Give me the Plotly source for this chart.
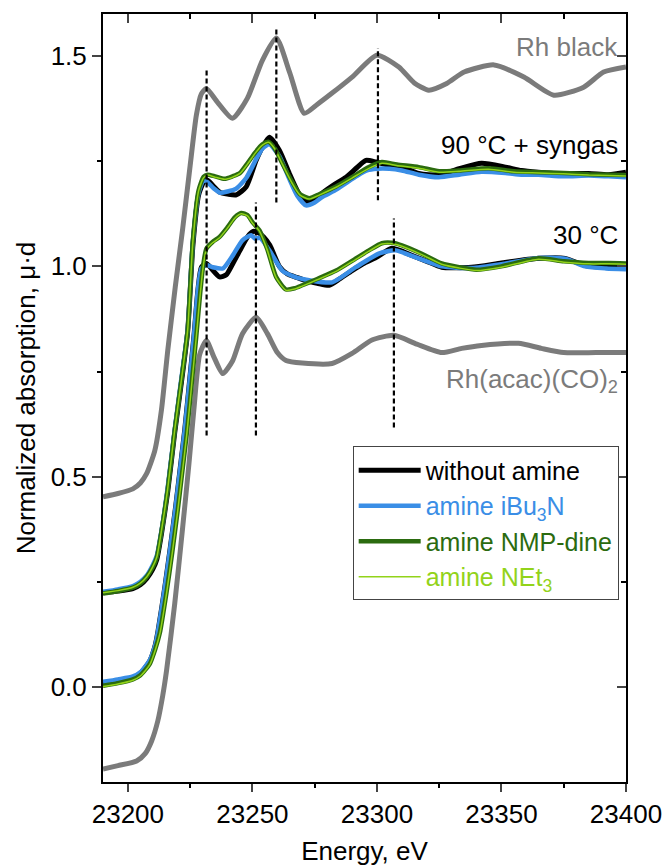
import plotly.graph_objects as go

# ---------------- data ----------------
rh_black = [(23190, 0.452), (23196, 0.46), (23202, 0.471), (23205, 0.485), (23207.5, 0.507),
            (23210.8, 0.562), (23213.5, 0.66), (23216, 0.80), (23219, 0.95), (23222, 1.09),
            (23225, 1.24), (23227.5, 1.36), (23229.5, 1.41), (23231.5, 1.423), (23236, 1.39),
            (23242, 1.352), (23248, 1.40), (23254, 1.49), (23259.6, 1.543), (23265, 1.46),
            (23270.8, 1.364), (23276, 1.385), (23282, 1.412), (23290, 1.45), (23300, 1.502),
            (23308.8, 1.474), (23315, 1.436), (23320.8, 1.419), (23328, 1.435), (23335, 1.462),
            (23347, 1.479), (23359, 1.45), (23371, 1.407), (23383, 1.426), (23391, 1.462),
            (23400, 1.474)]

rh_acac = [(23190, -0.195), (23196, -0.187), (23203.5, -0.176), (23207, -0.158), (23209.5, -0.129),
           (23212, -0.081), (23214, -0.02), (23215.5, 0.038), (23218.8, 0.198), (23222, 0.38),
           (23224.5, 0.53), (23226.5, 0.66), (23228.8, 0.79), (23231.5, 0.824), (23234.5, 0.785),
           (23238.1, 0.745), (23242, 0.775), (23246, 0.84), (23251.5, 0.879), (23256, 0.84),
           (23260, 0.795), (23263.5, 0.776), (23270, 0.77), (23282, 0.769), (23290, 0.793),
           (23298, 0.825), (23306.8, 0.836), (23316, 0.815), (23326, 0.795), (23334, 0.805),
           (23342, 0.812), (23356.8, 0.817), (23366, 0.805), (23375, 0.795), (23388, 0.795),
           (23400, 0.795)]

# 90 °C + syngas
noamine_90 = [(23190, 0.224), (23196, 0.228), (23202, 0.234), (23205, 0.243), (23207.6, 0.258),
              (23210, 0.28), (23211.6, 0.303), (23213.5, 0.365), (23216, 0.465), (23218.8, 0.605),
              (23221.5, 0.725), (23224, 0.845), (23226.1, 1.05), (23228.4, 1.17), (23230.4, 1.2),
              (23232, 1.205), (23234.5, 1.19), (23237, 1.176), (23240, 1.172), (23243.5, 1.17),
              (23247.5, 1.189), (23251.5, 1.252), (23254, 1.283), (23256.8, 1.307), (23260.8, 1.276),
              (23264.8, 1.221), (23268, 1.18), (23270, 1.162), (23272.8, 1.152), (23275, 1.158),
              (23278, 1.174), (23283, 1.195), (23287.6, 1.212), (23292, 1.235), (23295.6, 1.252),
              (23299.6, 1.248), (23305, 1.24), (23310, 1.236), (23316.8, 1.221), (23324.8, 1.217),
              (23333, 1.232), (23342, 1.245), (23351.6, 1.236), (23358, 1.228), (23364.8, 1.224),
              (23375, 1.22), (23385, 1.221), (23393, 1.218), (23400, 1.224)]

ibu3n_90 = [(23190, 0.226), (23196, 0.232), (23202, 0.24), (23205, 0.25), (23207.6, 0.265),
            (23210, 0.29), (23211.6, 0.312), (23213.5, 0.372), (23216, 0.475), (23218.8, 0.612),
            (23221.5, 0.735), (23224, 0.85), (23226.1, 1.06), (23228.4, 1.175), (23230.4, 1.205),
            (23232, 1.2), (23234.5, 1.185), (23237, 1.175), (23240, 1.178), (23243.5, 1.185),
            (23247.5, 1.21), (23251.5, 1.255), (23254, 1.28), (23256.8, 1.29), (23260.8, 1.262),
            (23264.8, 1.208), (23268, 1.168), (23271.5, 1.145), (23275, 1.152), (23278, 1.165),
            (23283, 1.18), (23287.6, 1.198), (23292, 1.215), (23296, 1.228), (23300, 1.232),
            (23305, 1.232), (23310, 1.228), (23316.8, 1.218), (23324.8, 1.212), (23333, 1.218),
            (23342, 1.225), (23351.6, 1.222), (23358, 1.218), (23364.8, 1.218), (23375, 1.214),
            (23385, 1.216), (23393, 1.214), (23400, 1.212)]

nmp_90 = [(23190, 0.222), (23196, 0.228), (23202, 0.236), (23205, 0.246), (23207.6, 0.262),
          (23210, 0.285), (23211.6, 0.308), (23213.5, 0.371), (23216, 0.47), (23218.8, 0.61),
          (23221.5, 0.73), (23224, 0.848), (23226.1, 1.062), (23228.4, 1.181), (23230.4, 1.213),
          (23232, 1.218), (23235, 1.214), (23238.8, 1.208), (23242, 1.214), (23245, 1.222),
          (23248, 1.245), (23251, 1.27), (23254, 1.29), (23256.5, 1.296), (23259, 1.28),
          (23262, 1.245), (23266, 1.2), (23269, 1.172), (23272.8, 1.162), (23277, 1.172),
          (23283.6, 1.19), (23290, 1.212), (23296.8, 1.236), (23302, 1.248), (23308, 1.242),
          (23316.8, 1.236), (23325, 1.226), (23333, 1.228), (23344.8, 1.233), (23355, 1.226),
          (23364.8, 1.224), (23375, 1.222), (23385, 1.219), (23393, 1.218), (23400, 1.217)]

net3_90 = [(23190, 0.224), (23196, 0.229), (23202, 0.237), (23205, 0.247), (23207.6, 0.262),
           (23210, 0.286), (23211.6, 0.309), (23213.5, 0.373), (23216, 0.472), (23218.8, 0.612),
           (23221.5, 0.731), (23224, 0.849), (23226.1, 1.06), (23228.4, 1.18), (23230.4, 1.211),
           (23232, 1.217), (23235, 1.212), (23238.8, 1.207), (23242, 1.212), (23245, 1.221),
           (23248, 1.243), (23251, 1.268), (23254, 1.288), (23256.5, 1.295), (23259, 1.279),
           (23262, 1.243), (23266, 1.197), (23269, 1.17), (23272.8, 1.16), (23277, 1.17),
           (23283.6, 1.188), (23290, 1.21), (23296.8, 1.233), (23302, 1.245), (23308, 1.24),
           (23316.8, 1.233), (23325, 1.224), (23333, 1.226), (23344.8, 1.231), (23355, 1.224),
           (23364.8, 1.222), (23375, 1.22), (23385, 1.217), (23393, 1.216), (23400, 1.215)]

# 30 °C
noamine_30 = [(23190, 0.007), (23196, 0.013), (23202, 0.021), (23205, 0.032), (23208.8, 0.062),
              (23211, 0.1), (23212.1, 0.133), (23214.8, 0.236), (23217, 0.33), (23219.2, 0.43),
              (23221, 0.52), (23222.8, 0.61), (23224.8, 0.73), (23226.6, 0.84), (23228.1, 0.943),
              (23229.5, 0.998), (23231.5, 1.007), (23233.5, 0.995), (23236.8, 0.975), (23239.5, 0.98),
              (23242, 1.005), (23245, 1.038), (23248, 1.07), (23250.3, 1.083), (23252, 1.081),
              (23254.5, 1.07), (23257, 1.05), (23260.8, 1.0), (23264, 0.982), (23267.6, 0.974),
              (23272, 0.965), (23276, 0.96), (23280.8, 0.955), (23285, 0.97), (23290, 0.99),
              (23295, 1.008), (23299.6, 1.021), (23306, 1.043), (23310, 1.036), (23314, 1.026),
              (23320, 1.012), (23326, 0.998), (23338, 0.998), (23350, 1.008), (23364.8, 1.019),
              (23375.6, 1.019), (23383.6, 1.002), (23392, 0.998), (23400, 0.998)]

ibu3n_30 = [(23190, 0.012), (23196, 0.018), (23202, 0.025), (23205, 0.035), (23208.8, 0.064),
            (23211, 0.1), (23212.1, 0.133), (23214.8, 0.236), (23217, 0.33), (23219.2, 0.43),
            (23221, 0.52), (23222.8, 0.61), (23224.8, 0.73), (23226.6, 0.84), (23228.1, 0.945),
            (23229.5, 0.995), (23231.5, 1.003), (23234, 0.998), (23238.1, 0.995), (23242, 1.025),
            (23246, 1.062), (23249.5, 1.074), (23251, 1.066), (23253, 1.068), (23256.8, 1.038),
            (23262, 0.99), (23267, 0.975), (23272.8, 0.967), (23282, 0.962), (23291.5, 0.998),
            (23301, 1.031), (23307.5, 1.038), (23314, 1.025), (23320, 1.012), (23326, 1.0),
            (23338, 0.996), (23350, 1.005), (23364.8, 1.02), (23375.6, 1.018), (23383.6, 1.0),
            (23392, 0.995), (23400, 0.993)]

nmp_30 = [(23190, 0.003), (23196, 0.009), (23202, 0.018), (23205, 0.028), (23208.8, 0.055),
          (23211, 0.09), (23212.8, 0.128), (23215.5, 0.225), (23217.8, 0.32), (23220, 0.42),
          (23221.8, 0.51), (23223.6, 0.6), (23225.6, 0.72), (23227.4, 0.83), (23229, 0.935),
          (23230.3, 1.005), (23231.5, 1.042), (23234, 1.058), (23236.8, 1.07), (23240, 1.093),
          (23243, 1.117), (23245.5, 1.127), (23248, 1.122), (23250, 1.105), (23252.8, 1.086),
          (23256, 1.04), (23259.5, 0.975), (23263.5, 0.945), (23267, 0.948), (23270, 0.955),
          (23276, 0.97), (23283.6, 0.99), (23290, 1.013), (23296.8, 1.038), (23302, 1.055),
          (23306, 1.056), (23310, 1.05), (23318, 1.03), (23326, 1.007), (23333, 0.998),
          (23340, 0.992), (23350, 1.0), (23364.8, 1.019), (23375, 1.012), (23385, 1.008),
          (23393, 1.008), (23400, 1.007)]

net3_30 = [(23190, 0.001), (23196, 0.007), (23202, 0.016), (23205, 0.026), (23208.8, 0.053),
           (23211, 0.088), (23212.8, 0.126), (23215.5, 0.222), (23217.8, 0.318), (23220, 0.418),
           (23221.8, 0.508), (23223.6, 0.598), (23225.6, 0.718), (23227.4, 0.828), (23229, 0.932),
           (23230.3, 1.002), (23231.5, 1.04), (23234, 1.056), (23236.8, 1.068), (23240, 1.091),
           (23243, 1.115), (23245.5, 1.125), (23248, 1.12), (23250, 1.103), (23252.8, 1.084),
           (23256, 1.038), (23259.5, 0.973), (23263.5, 0.943), (23267, 0.946), (23270, 0.953),
           (23276, 0.968), (23283.6, 0.988), (23290, 1.011), (23296.8, 1.036), (23302, 1.053),
           (23306, 1.054), (23310, 1.048), (23318, 1.028), (23326, 1.005), (23333, 0.996),
           (23340, 0.99), (23350, 0.998), (23364.8, 1.017), (23375, 1.01), (23385, 1.006),
           (23393, 1.006), (23400, 1.005)]

# dashed marker lines: energy, y-from, y-to
marker_E = [23231.6, 23259.6, 23251.4, 23300.4, 23306.8]
marker_y0 = [0.598, 1.152, 0.598, 1.157, 0.617]
marker_y1 = [1.471, 1.569, 1.152, 1.519, 1.114]

x_ticks = [23200, 23250, 23300, 23350, 23400]
y_ticks = [0.0, 0.5, 1.0, 1.5]

labels_text = ["Rh black", "90 °C + syngas", "30 °C", "Rh(acac)(CO)<sub>2</sub>"]
labels_y = [1.521, 1.288, 1.074, 0.729]

series_names = ["without amine", "amine iBu<sub>3</sub>N", "amine NMP-dine", "amine NEt<sub>3</sub>"]

# ---------------- styling ----------------
GRAY = "#7b7b7b"
COLORS = ["#000000", "#3a8ee6", "#2b6b0f", "#92d31a"]
WIDTHS = [5, 4.5, 4.5, 1.5]
FONT = "Liberation Sans, Arial, sans-serif"
FS = 26

fig = go.Figure()

def xy(pairs):
    return [p[0] for p in pairs], [p[1] for p in pairs]

for ref in (rh_black, rh_acac):
    x, y = xy(ref)
    fig.add_trace(go.Scatter(x=x, y=y, mode="lines", showlegend=False, hoverinfo="skip",
                             line=dict(color=GRAY, width=5, shape="spline", smoothing=0.6)))

groups = [(noamine_90, noamine_30), (ibu3n_90, ibu3n_30), (nmp_90, nmp_30), (net3_90, net3_30)]
for i, (s90, s30) in enumerate(groups):
    for j, s in enumerate((s90, s30)):
        x, y = xy(s)
        fig.add_trace(go.Scatter(
            x=x, y=y, mode="lines", legendgroup=str(i), showlegend=(j == 0),
            name=f"<span style='color:{COLORS[i]}'>{series_names[i]}</span>",
            line=dict(color=COLORS[i], width=WIDTHS[i], shape="spline", smoothing=0.6)))

# dashed vertical marker lines
for e, a, b in zip(marker_E, marker_y0, marker_y1):
    fig.add_trace(go.Scatter(x=[e, e], y=[a, b], mode="lines", showlegend=False, hoverinfo="skip",
                             line=dict(color="black", width=2.2, dash="5px,3px")))

# invisible trace on the mirrored axes (inside ticks on top / right)
fig.add_trace(go.Scatter(x=[None], y=[None], xaxis="x2", yaxis="y2", showlegend=False))

label_colors = [GRAY, "black", "black", GRAY]
for t, yv, c in zip(labels_text, labels_y, label_colors):
    fig.add_annotation(x=23400, y=yv, text=t, showarrow=False, xanchor="right", yanchor="middle",
                       xshift=-6, font=dict(size=FS, color=c, family=FONT))

XR = [23190, 23400]
YR = [-0.226, 1.6]

fig.update_layout(
    width=667, height=868,
    margin=dict(l=103, r=41, t=14, b=86, autoexpand=False),
    paper_bgcolor="white", plot_bgcolor="white",
    font=dict(family=FONT, size=FS, color="black"),
    xaxis=dict(range=XR, tickvals=x_ticks, tickformat="d", ticks="outside", ticklen=8, tickwidth=1.5,
               showline=True, linewidth=2, linecolor="black", mirror=True, showgrid=False, zeroline=False,
               automargin=False,
               minor=dict(ticks="outside", ticklen=4, dtick=25, tick0=23200, tickwidth=1.5, tickcolor="black"),
               title=dict(text="Energy, eV", font=dict(size=FS), standoff=14),
               tickfont=dict(size=FS)),
    yaxis=dict(range=YR, tickvals=y_ticks, tickformat=".1f", ticks="outside", ticklen=9, tickwidth=1.5,
               showline=True, linewidth=2, linecolor="black", mirror=True, showgrid=False, zeroline=False,
               automargin=False,
               minor=dict(ticks="outside", ticklen=4, dtick=0.25, tick0=0, tickwidth=1.5, tickcolor="black"),
               title=dict(text="Normalized absorption, μ·d", font=dict(size=FS), standoff=8),
               tickfont=dict(size=FS)),
    xaxis2=dict(range=XR, overlaying="x", side="top", tickvals=x_ticks, ticks="inside", ticklen=9,
                tickwidth=1.5, showticklabels=False, showgrid=False, zeroline=False, showline=False,
                automargin=False,
                minor=dict(ticks="inside", ticklen=5, dtick=25, tick0=23200, tickwidth=1.5, tickcolor="black")),
    yaxis2=dict(range=YR, overlaying="y", side="right", tickvals=y_ticks, ticks="inside", ticklen=9,
                tickwidth=1.5, showticklabels=False, showgrid=False, zeroline=False, showline=False,
                automargin=False,
                minor=dict(ticks="inside", ticklen=5, dtick=0.25, tick0=0, tickwidth=1.5, tickcolor="black")),
    legend=dict(x=0.986, y=0.437, xanchor="right", yanchor="top", bgcolor="white",
                bordercolor="#444", borderwidth=1, font=dict(size=25, family=FONT),
                itemwidth=62, tracegroupgap=0),
)

fig.write_html("out.html")
